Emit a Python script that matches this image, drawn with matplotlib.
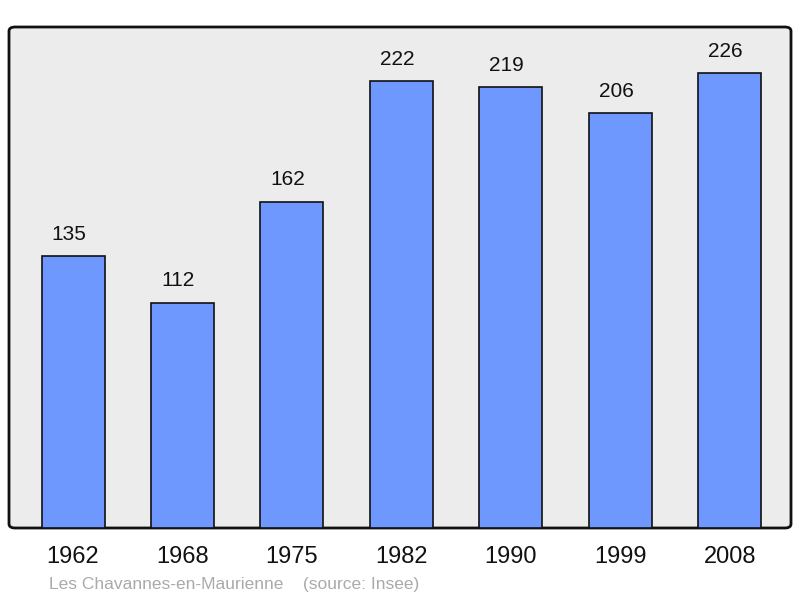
import matplotlib.pyplot as plt
from matplotlib.patches import FancyBboxPatch

# data
YEARS = ["1962", "1968", "1975", "1982", "1990", "1999", "2008"]
POPULATION = [135, 112, 162, 222, 219, 206, 226]
TITLE = "Les Chavannes-en-Maurienne    (source: Insee)"

COLOR_BG = "#ececec"
COLOR_BAR = "#6f98ff"

plt.rcParams["font.family"] = ["Liberation Sans", "DejaVu Sans"]

fig = plt.figure(figsize=(8, 5.98), dpi=100, facecolor="white")
ax = fig.add_axes([9 / 800, 70 / 598, 782 / 800, 501 / 598])
ax.set_facecolor("none")

# rounded frame behind the bars
frame = FancyBboxPatch(
    (0, 0), 1, 1,
    boxstyle="round,pad=0,rounding_size=0.008",
    transform=ax.transAxes,
    facecolor=COLOR_BG, edgecolor="#111111", linewidth=2,
    zorder=0, clip_on=False,
)
ax.add_patch(frame)

x = range(len(YEARS))
bars = ax.bar(x, POPULATION, width=0.576, color=COLOR_BAR,
              edgecolor="#111111", linewidth=1.2, zorder=2)

for xi, val in zip(x, POPULATION):
    ax.annotate(str(val), (xi, val), xytext=(-3, 9), textcoords="offset points",
                ha="center", va="bottom", fontsize=15, color="#111111")

ax.set_xlim(-0.585, 6.56)
ax.set_ylim(0, 248.9)
ax.set_xticks(list(x))
ax.set_xticklabels(YEARS, fontsize=17, color="#111111")
ax.tick_params(axis="x", length=0, pad=13)
ax.set_yticks([])
for spine in ax.spines.values():
    spine.set_visible(False)

fig.text(49 / 800, 1 - 584 / 598, TITLE, fontsize=12.5, color="#aaaaaa",
         ha="left", va="center")

fig.savefig("out.png", dpi=100)
